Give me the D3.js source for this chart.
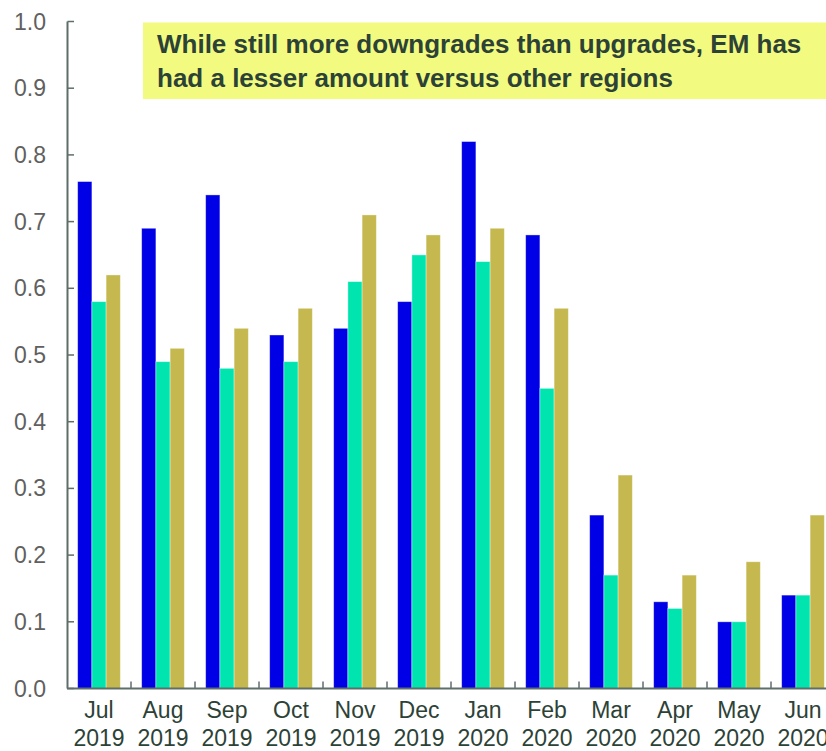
<!DOCTYPE html>
<html>
<head>
<meta charset="utf-8">
<script src="https://cdn.jsdelivr.net/npm/d3@7"></script>
<style>
  body { margin: 0; background: #fff; overflow: hidden; }
  text { font-family: "Liberation Sans", Arial, sans-serif; }
</style>
</head>
<body>
<script>
// chart data
var months = ["Jul", "Aug", "Sep", "Oct", "Nov", "Dec", "Jan", "Feb", "Mar", "Apr", "May", "Jun"];
var years = ["2019", "2019", "2019", "2019", "2019", "2019", "2020", "2020", "2020", "2020", "2020", "2020"];
var seriesBlue = [0.76, 0.69, 0.74, 0.53, 0.54, 0.58, 0.82, 0.68, 0.26, 0.13, 0.10, 0.14];
var seriesTeal = [0.58, 0.49, 0.48, 0.49, 0.61, 0.65, 0.64, 0.45, 0.17, 0.12, 0.10, 0.14];
var seriesOlive = [0.62, 0.51, 0.54, 0.57, 0.71, 0.68, 0.69, 0.57, 0.32, 0.17, 0.19, 0.26];
var yTicks = [0, 0.1, 0.2, 0.3, 0.4, 0.5, 0.6, 0.7, 0.8, 0.9, 1.0];
var note = ["While still more downgrades than upgrades, EM has", "had a lesser amount versus other regions"];

var width = 826,
    height = 751;
var colors = ["#0000e6", "#00e5b0", "#c5b84e"];
var textColor = "#2d4237";
var axisColor = "#5f6e68";

var svg = d3.select("body")
    .append("svg")
    .attr("width", width)
    .attr("height", height);

var x0 = d3.scaleBand()
    .domain(d3.range(months.length))
    .range([67, 67 + 64 * 12])
    .paddingInner(0)
    .paddingOuter(0);

var x1 = d3.scaleBand()
    .domain([0, 1, 2])
    .range([x0.bandwidth() / 6, x0.bandwidth() * 5 / 6]);

var y = d3.scaleLinear()
    .domain([0, 1])
    .range([688.5, 21.5]);

var series = [seriesBlue, seriesTeal, seriesOlive];

// bars
var groups = svg.append("g")
    .selectAll("g")
    .data(months)
    .enter()
    .append("g")
    .attr("transform", function(d, i) { return "translate(" + x0(i) + ",0)"; });

groups.selectAll("rect")
    .data(function(d, i) { return series.map(function(s, k) { return {k: k, v: s[i]}; }); })
    .enter()
    .append("rect")
    .attr("x", function(d) { return x1(d.k); })
    .attr("width", x1.bandwidth())
    .attr("y", function(d) { return y(d.v); })
    .attr("height", function(d) { return y(0) - y(d.v); })
    .attr("fill", function(d) { return colors[d.k]; })
    .attr("stroke", "#ffffff")
    .attr("stroke-opacity", 0.45)
    .attr("stroke-width", 0.8);

// y axis
var yAxis = svg.append("g");
yAxis.append("line")
    .attr("x1", 67.5).attr("x2", 67.5)
    .attr("y1", y(1)).attr("y2", y(0))
    .attr("stroke", axisColor).attr("stroke-width", 2);
yAxis.selectAll(".tick")
    .data(yTicks)
    .enter()
    .append("line")
    .attr("x1", 67.5).attr("x2", 74)
    .attr("y1", function(d) { return y(d); })
    .attr("y2", function(d) { return y(d); })
    .attr("stroke", axisColor).attr("stroke-width", 1.5);
yAxis.selectAll("text")
    .data(yTicks)
    .enter()
    .append("text")
    .attr("x", 46)
    .attr("y", function(d) { return y(d) + 8; })
    .attr("text-anchor", "end")
    .style("font-size", "23px")
    .attr("fill", "#606060")
    .text(function(d) { return d3.format(".1f")(d); });

// x axis
var xAxis = svg.append("g");
xAxis.append("line")
    .attr("x1", 67).attr("x2", x0.range()[1])
    .attr("y1", y(0)).attr("y2", y(0))
    .attr("stroke", axisColor).attr("stroke-width", 2);
xAxis.selectAll(".tick")
    .data(d3.range(1, months.length + 1))
    .enter()
    .append("line")
    .attr("x1", function(i) { return 67 + x0.step() * i; })
    .attr("x2", function(i) { return 67 + x0.step() * i; })
    .attr("y1", y(0)).attr("y2", y(0) - 7)
    .attr("stroke", axisColor).attr("stroke-width", 1.5);

var labels = xAxis.selectAll("text")
    .data(months)
    .enter()
    .append("text")
    .attr("text-anchor", "middle")
    .style("font-size", "23px")
    .attr("fill", textColor);
labels.append("tspan")
    .attr("x", function(d, i) { return x0(i) + x0.bandwidth() / 2; })
    .attr("y", 718)
    .text(function(d) { return d; });
labels.append("tspan")
    .attr("x", function(d, i) { return x0(i) + x0.bandwidth() / 2; })
    .attr("y", 746)
    .text(function(d, i) { return years[i]; });

// annotation box
svg.append("rect")
    .attr("x", 143)
    .attr("y", 22.5)
    .attr("width", 700)
    .attr("height", 76.5)
    .attr("fill", "#f2fb7f");

svg.append("g")
    .selectAll("text")
    .data(note)
    .enter()
    .append("text")
    .attr("x", 157)
    .attr("y", function(d, i) { return 53 + i * 33.5; })
    .style("font-size", "26px")
    .style("font-weight", "bold")
    .attr("fill", textColor)
    .text(function(d) { return d; });
</script>
</body>
</html>
